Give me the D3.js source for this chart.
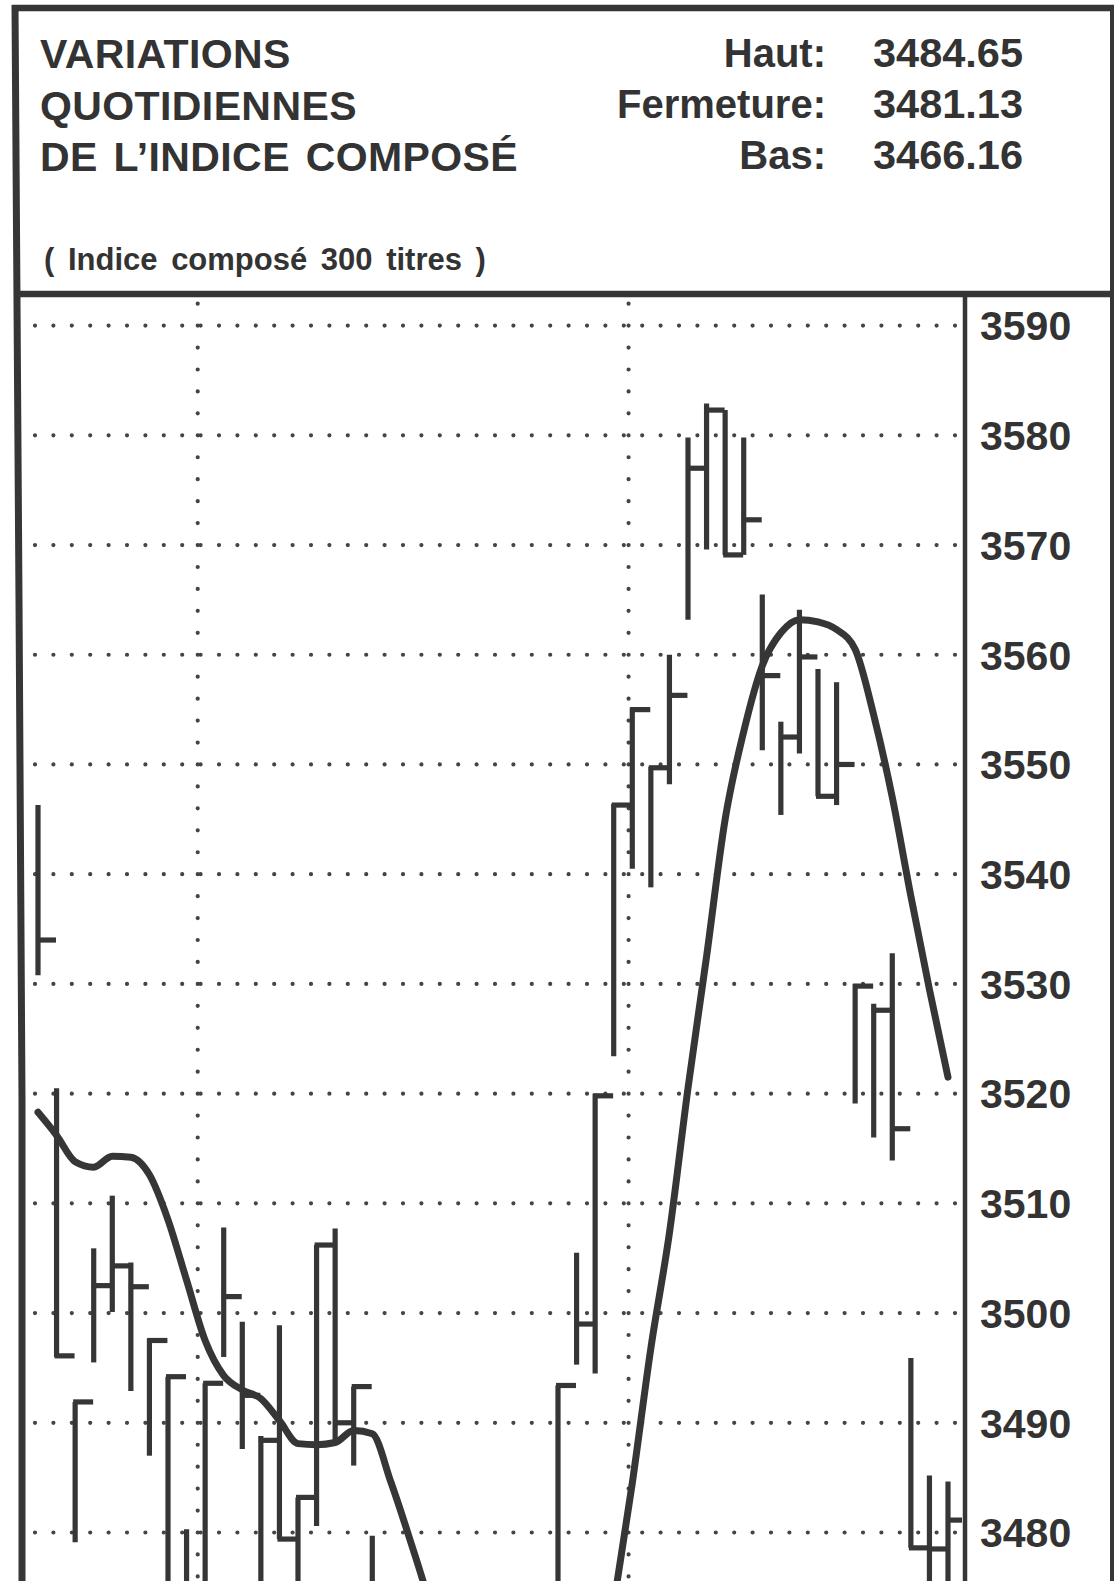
<!DOCTYPE html>
<html>
<head>
<meta charset="utf-8">
<script src="https://cdn.jsdelivr.net/npm/d3@7"></script>
<style>
  html, body { margin: 0; padding: 0; background: #fff; }
  svg { display: block; }
  text { font-family: "Liberation Sans", Arial, Helvetica, sans-serif; fill: #333; }
</style>
</head>
<body>
<div id="chart"></div>
<script>
// header
const titleLines = ["VARIATIONS", "QUOTIDIENNES", "DE L’INDICE COMPOSÉ"];
const subtitle = "( Indice composé 300 titres )";
const headerLabels = ["Haut:", "Fermeture:", "Bas:"];
const headerValues = ["3484.65", "3481.13", "3466.16"];

// session index of each bar (19 to 27 sit below the frame)
const sessions = [0, 1, 2, 3, 4, 5, 6, 7, 8, 9, 10, 11, 12, 13, 14, 15, 16, 17, 18,
                  28, 29, 30, 31, 32, 33, 34, 35, 36, 37, 38, 39, 40, 41, 42, 43, 44, 45, 46, 47, 48, 49];
const highs = [3546.3, 3520.5, 3491.9, 3505.9, 3510.7, 3504.6, 3497.7, 3494.2, 3480.3, 3493.6,
               3507.8, 3499.2, 3488.8, 3498.9, 3483.2, 3506.2, 3507.7, 3493.3, 3479.7,
               3493.4, 3505.5, 3520.0, 3546.4, 3555.2, 3549.8, 3560.0, 3579.8, 3582.9, 3582.3,
               3579.8, 3565.5, 3553.9, 3564.1, 3558.7, 3557.5, 3530.0, 3528.2, 3532.8, 3495.9,
               3485.2, 3484.65];
const lows = [3530.8, 3496.0, 3479.1, 3495.5, 3500.1, 3492.9, 3487.0, 3470.0, 3468.5, 3471.0,
              3496.0, 3487.6, 3469.0, 3479.4, 3470.5, 3480.6, 3488.2, 3486.1, 3467.5,
              3468.0, 3495.3, 3494.5, 3523.4, 3540.5, 3538.8, 3548.2, 3563.2, 3569.6, 3569.1,
              3569.1, 3551.3, 3545.4, 3551.0, 3547.1, 3546.3, 3519.1, 3516.0, 3513.9, 3478.6,
              3472.0, 3466.16];
const closes = [3534.0, 3496.1, 3491.9, 3502.5, 3504.3, 3502.4, 3497.5, 3494.2, 3472.0, 3493.6,
                3501.5, 3492.5, 3488.4, 3479.4, 3483.2, 3506.2, 3490.0, 3493.3, 3470.0,
                3493.4, 3499.0, 3519.8, 3546.3, 3555.0, 3549.7, 3556.3, 3577.0, 3582.3, 3569.1,
                3572.3, 3558.1, 3552.5, 3559.8, 3547.1, 3550.0, 3529.8, 3527.6, 3516.8, 3478.6,
                3478.5, 3481.13];

// smoothed index, one value per session 0..49
const trend = [3518.3, 3516.2, 3513.8, 3513.3, 3514.3, 3514.2, 3512.6, 3508.5, 3503.0, 3497.5,
               3494.3, 3493.0, 3492.2, 3490.2, 3488.1, 3488.0, 3488.2, 3489.3, 3489.0, 3484.6,
               3479.5, 3474.0, 3467.0, 3460.0, 3453.0, 3447.0, 3442.0, 3440.0, 3443.0, 3451.0,
               3462.0, 3473.5, 3484.5, 3496.8, 3507.3, 3520.5, 3532.5, 3545.0, 3553.0, 3559.0,
               3562.0, 3563.2, 3563.0, 3562.3, 3560.5, 3554.5, 3547.0, 3538.0, 3529.5, 3521.5];

const yTicks = [3590, 3580, 3570, 3560, 3550, 3540, 3530, 3520, 3510, 3500, 3490, 3480];
const separators = [8.6, 31.8];

const width = 1118,
      height = 1581,
      ink = "#363636";

const svg = d3.select("#chart").append("svg")
    .attr("width", width)
    .attr("height", height)
    .style("background", "#fff");

//Set up scales
const x = d3.scaleLinear().domain([0, 49]).range([38, 948]);
const y = d3.scaleLinear().domain([3480, 3590]).range([1532.5, 325.6]);

svg.append("clipPath").attr("id", "plot")
    .append("rect")
    .attr("x", 22).attr("y", 297)
    .attr("width", 962 - 22).attr("height", height - 297);

//Frame
const frame = svg.append("g").attr("stroke", ink).attr("fill", "none");
frame.append("path")
    .attr("d", d3.line()([[15, 5], [19, 600], [22, 1100], [22, height]]))
    .attr("stroke-width", 7);
frame.append("line")
    .attr("x1", 12).attr("x2", 1114).attr("y1", 8).attr("y2", 8)
    .attr("stroke-width", 6.5);
frame.append("line")
    .attr("x1", 1112).attr("x2", 1112).attr("y1", 5).attr("y2", height)
    .attr("stroke-width", 4);
frame.append("line")
    .attr("x1", 15).attr("x2", 1114).attr("y1", 294).attr("y2", 294)
    .attr("stroke-width", 6.5);
frame.append("line")
    .attr("x1", 965).attr("x2", 965).attr("y1", 294).attr("y2", height)
    .attr("stroke-width", 4.5);

//Header text
svg.selectAll("text.title")
    .data(titleLines)
    .enter().append("text")
    .attr("class", "title")
    .attr("x", 40)
    .attr("y", (d, i) => 68 + i * 51.5)
    .style("font-size", "41px")
    .style("font-weight", "bold")
    .style("letter-spacing", "0.4px")
    .style("word-spacing", "4px")
    .text(d => d);

svg.append("text")
    .attr("x", 44)
    .attr("y", 270)
    .style("font-size", "31px")
    .style("font-weight", "bold")
    .style("word-spacing", "5px")
    .text(subtitle);

svg.selectAll("text.hlabel")
    .data(headerLabels)
    .enter().append("text")
    .attr("class", "hlabel")
    .attr("x", 826)
    .attr("y", (d, i) => 67 + i * 51)
    .attr("text-anchor", "end")
    .style("font-size", "40px")
    .style("font-weight", "bold")
    .text(d => d);

svg.selectAll("text.hvalue")
    .data(headerValues)
    .enter().append("text")
    .attr("class", "hvalue")
    .attr("x", 873)
    .attr("y", (d, i) => 67 + i * 51)
    .style("font-size", "41.5px")
    .style("font-weight", "bold")
    .text(d => d);

//Dotted grid
const plot = svg.append("g").attr("clip-path", "url(#plot)");

plot.selectAll("line.grid")
    .data(yTicks)
    .enter().append("line")
    .attr("class", "grid")
    .attr("x1", 35).attr("x2", 956)
    .attr("y1", d => y(d)).attr("y2", d => y(d))
    .attr("stroke", "#444")
    .attr("stroke-width", 4.2)
    .attr("stroke-linecap", "round")
    .attr("stroke-dasharray", "0 18.4");

plot.selectAll("line.sep")
    .data(separators)
    .enter().append("line")
    .attr("class", "sep")
    .attr("x1", d => x(d)).attr("x2", d => x(d))
    .attr("y1", y(3476)).attr("y2", y(3592.5))
    .attr("stroke", "#444")
    .attr("stroke-width", 4.2)
    .attr("stroke-linecap", "round")
    .attr("stroke-dasharray", "0 " + (y(3476) - y(3478)));

//Bars: high-low with closing tick
const bars = sessions.map((s, i) => ({s: s, high: highs[i], low: lows[i], close: closes[i]}));

const bar = plot.selectAll("g.bar")
    .data(bars)
    .enter().append("g")
    .attr("class", "bar")
    .attr("stroke", ink)
    .attr("stroke-width", 5.2);

bar.append("line")
    .attr("x1", d => x(d.s)).attr("x2", d => x(d.s))
    .attr("y1", d => y(d.high)).attr("y2", d => y(d.low));

bar.append("line")
    .attr("x1", d => x(d.s) - 2).attr("x2", d => x(d.s) + 18)
    .attr("y1", d => y(d.close)).attr("y2", d => y(d.close));

//Smoothed line
plot.append("path")
    .datum(trend)
    .attr("fill", "none")
    .attr("stroke", ink)
    .attr("stroke-width", 7)
    .attr("stroke-linecap", "round")
    .attr("d", d3.line()
        .x((d, i) => x(i))
        .y(d => y(d))
        .curve(d3.curveMonotoneX));

//Axis labels
svg.selectAll("text.tick")
    .data(yTicks)
    .enter().append("text")
    .attr("class", "tick")
    .attr("x", 980)
    .attr("y", d => y(d))
    .attr("dy", "0.36em")
    .style("font-size", "41px")
    .style("font-weight", "bold")
    .text(d => d);
</script>
</body>
</html>
